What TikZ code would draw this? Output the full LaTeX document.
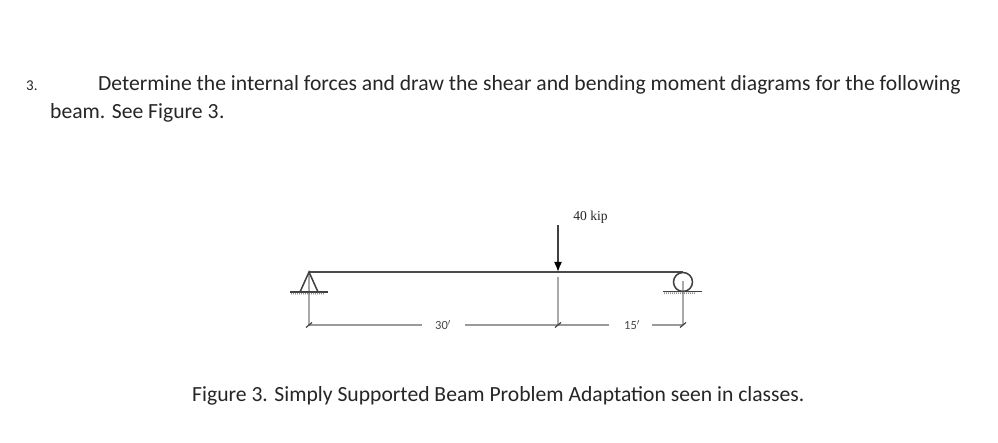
\documentclass[tikz,border=0pt]{standalone}
\usepackage{fontspec}
\setmainfont{Carlito}
\newfontfamily\labelserif{Liberation Serif}
\usetikzlibrary{arrows.meta}
\definecolor{ink}{HTML}{262626}
\definecolor{beamc}{HTML}{4A4A4A}
\definecolor{dimc}{HTML}{9A9A9A}
\definecolor{supc}{HTML}{404040}
\tikzset{
  bodytext/.style={anchor=base west,inner sep=0pt,text=ink,font=\fontsize{21.62}{24}\selectfont},
  dimtext/.style={inner sep=0pt,text=ink!85!white,font=\fontsize{12.5}{14}\selectfont},
  beamline/.style={draw=beamc,line width=2.2pt},
  dimline/.style={draw=dimc,line width=1.1pt},
  ext/.style={draw=dimc!85!white,line width=1.3pt},
  tick/.style={draw=supc,line width=1.2pt},
  sup/.style={draw=supc,line width=1.5pt},
  ground/.style={draw=supc,line width=1.1pt},
  hatch/.style={draw=supc!70!white,line width=.5pt},
  load/.style={draw=supc,line width=1.6pt,-{Latex[length=10pt,width=8pt,color=black]}}
}
\begin{document}
\begin{tikzpicture}[x=1pt,y=-1pt]
\useasboundingbox (0,0) rectangle (998,443);
\fill[white] (0,0) rectangle (998,443);
% text
\node[bodytext,font=\fontsize{15}{18}\selectfont] (num) at (26,91) {3.};
\node[bodytext] (l1) at (98,91) {Determine the internal forces and draw the shear and bending moment diagrams for the following};
\node[bodytext] (l2) at (50,119) {beam. See Figure 3\hspace{.5pt}.};
\node[bodytext] (cap) at (192,401) {Figure 3. Simply Supported Beam Problem Adaptation seen in classes.};
% key points
\coordinate (A) at (309,272);
\coordinate (M) at (558,272);
\coordinate (B) at (683,272);
\coordinate (Ad) at (309,325);
\coordinate (Md) at (558,325);
\coordinate (Bd) at (683,325);
\coordinate (Mt) at (558,277);
\coordinate (Bt) at (683,281);
\coordinate (Lt) at (558,225);
\coordinate (AL) at (300,292);
\coordinate (AR) at (318,292);
\coordinate (g30a) at (422,325);
\coordinate (g30b) at (465,325);
\coordinate (g15a) at (609,325);
\coordinate (g15b) at (652,325);
% extension lines
\draw[ext] (A) -- (Ad);
\draw[ext] (Mt) -- (Md);
\draw[ext] (Bt) -- (Bd);
% labels
\node[dimtext] (d30) at (443,325) {30$'$};
\node[dimtext] (d15) at (632,325) {15$'$};
\node[inner sep=0pt,text=ink,font=\labelserif\fontsize{13.6}{15}\selectfont] (kip) at (590.5,217) {40 kip};
% dimension lines
\draw[dimline] (Ad) -- (g30a);
\draw[dimline] (g30b) -- (Md);
\draw[dimline] (Md) -- (g15a);
\draw[dimline] (g15b) -- (Bd);
% ticks
\foreach \p in {Ad,Md,Bd}{
  \draw[tick] (\p) ++(-3,2.5) -- ++(6,-5);
}
% beam
\draw[beamline] (A) -- (B);
% load
\draw[load] (Lt) -- (M);
% pin
\draw[sup] (AL) -- (A) -- (AR);
\draw[ground] (290,292) -- (328,292);
\foreach \i in {0,...,16}{\draw[hatch] (292+2*\i,292.5) -- ++(-.8,2);}
% roller
\draw[sup] (683,282) circle[radius=9.5];
\draw[ground] (663,291.5) -- (702,291.5);
\foreach \i in {0,...,15}{\draw[hatch] (665+2*\i,292) -- ++(-.8,2);}
\end{tikzpicture}
\end{document}
